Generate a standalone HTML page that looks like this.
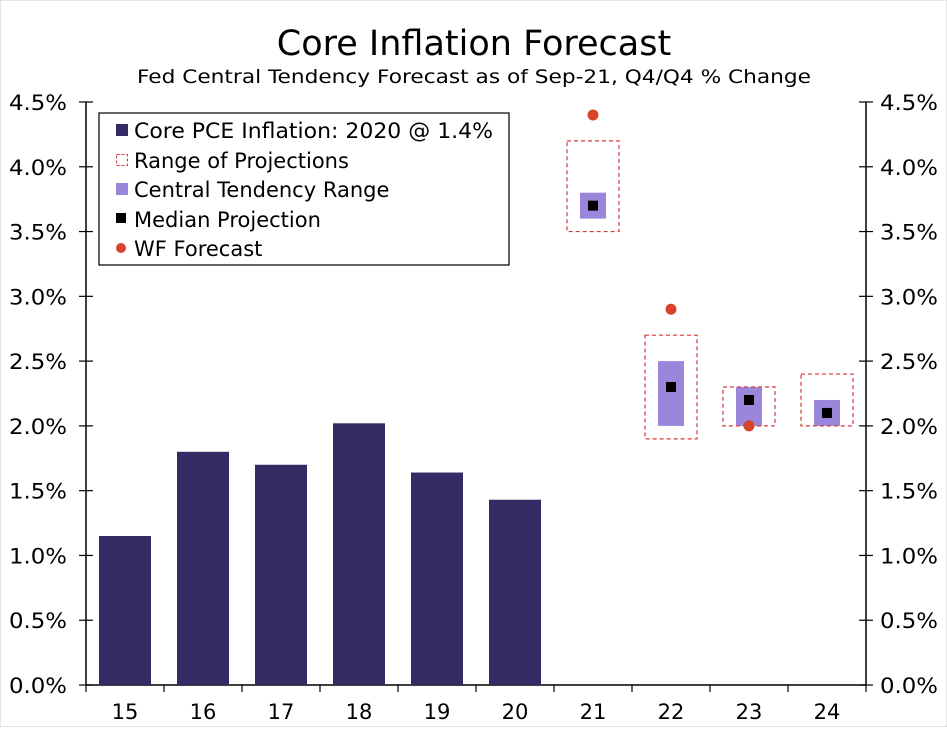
<!DOCTYPE html>
<html><head><meta charset="utf-8"><style>
body{margin:0;background:#fff;font-family:"Liberation Sans","DejaVu Sans",sans-serif;}
svg text{font-family:"DejaVu Sans","Liberation Sans",sans-serif;}
</style></head><body>
<svg id="chart" width="947" height="727" viewBox="0 0 947 727" xmlns="http://www.w3.org/2000/svg">
<rect x="0" y="0" width="947" height="727" fill="#fff" stroke="#ccc"/>
<text x="474" y="55" text-anchor="middle" font-size="35" fill="#000">Core Inflation Forecast</text>
<text x="474" y="83" text-anchor="middle" font-size="19" textLength="674" lengthAdjust="spacingAndGlyphs" fill="#000">Fed Central Tendency Forecast as of Sep-21, Q4/Q4 % Change</text>
<g id="axes"></g>
<g id="marks"></g>
<g>
<rect x="99" y="113" width="410" height="152" fill="#fff" stroke="#000" stroke-width="1.2"/>
<rect x="116" y="124" width="12" height="12" fill="#352a63"/>
<text x="134" y="138" font-size="21" textLength="359" lengthAdjust="spacingAndGlyphs">Core PCE Inflation: 2020 @ 1.4%</text>
<rect x="116.5" y="154.5" width="11" height="11" fill="none" stroke="#d9373a" stroke-dasharray="3,2"/>
<text x="134" y="168" font-size="21">Range of Projections</text>
<rect x="116" y="183" width="12" height="12" fill="#9a87dc"/>
<text x="134" y="197" font-size="21">Central Tendency Range</text>
<rect x="116" y="213" width="10" height="10" fill="#000"/>
<text x="134" y="227" font-size="21">Median Projection</text>
<circle cx="121" cy="248" r="5" fill="#d9432a"/>
<text x="134" y="256" font-size="21">WF Forecast</text>
</g>
</svg>
<script>
const categories=["15","16","17","18","19","20","21","22","23","24"];
const barValues=[1.15,1.8,1.7,2.02,1.64,1.43,null,null,null,null];
const rangeLow=[null,null,null,null,null,null,3.5,1.9,2.0,2.0];
const rangeHigh=[null,null,null,null,null,null,4.2,2.7,2.3,2.4];
const ctLow=[null,null,null,null,null,null,3.6,2.0,2.0,2.0];
const ctHigh=[null,null,null,null,null,null,3.8,2.5,2.3,2.2];
const medianValues=[null,null,null,null,null,null,3.7,2.3,2.2,2.1];
const wfValues=[null,null,null,null,null,null,4.4,2.9,2.0,null];
const yTicks=[0,0.5,1,1.5,2,2.5,3,3.5,4,4.5];

const NS="http://www.w3.org/2000/svg";
const X0=86,X1=866,Y0=685,Y1=102,YMAX=4.5;
const slot=(X1-X0)/categories.length;
function xs(i){return X0+slot*(i+0.5);}
function ys(v){return Y0-(v/YMAX)*(Y0-Y1);}
function mk(tag,attrs,parent){const e=document.createElementNS(NS,tag);for(const k in attrs)e.setAttribute(k,attrs[k]);parent.appendChild(e);return e;}
const axes=document.getElementById('axes'),marks=document.getElementById('marks');

let l=mk('line',{x1:X0,y1:Y1,x2:X0,y2:Y0,stroke:'#000','stroke-width':1.5},axes);


l=mk('line',{x1:X1,y1:Y1,x2:X1,y2:Y0,stroke:'#000','stroke-width':1.5},axes);


l=mk('line',{x1:X0,y1:Y0,x2:X1,y2:Y0,stroke:'#000','stroke-width':1.5},axes);


yTicks.forEach(v=>{
  const y=ys(v),lab=v.toFixed(1)+'%';
  mk('line',{x1:X0-7,y1:y,x2:X0+7,y2:y,stroke:'#000','stroke-width':1.2},axes);
  mk('line',{x1:X1-7,y1:y,x2:X1+7,y2:y,stroke:'#000','stroke-width':1.2},axes);
  let t=mk('text',{x:X0-19,y:y+8,'text-anchor':'end','font-size':21,textLength:58,lengthAdjust:'spacingAndGlyphs'},axes);t.textContent=lab;
  
  
  t=mk('text',{x:X1+14,y:y+8,'text-anchor':'start','font-size':21,textLength:58,lengthAdjust:'spacingAndGlyphs'},axes);t.textContent=lab;
  
  
});
categories.forEach((c,i)=>{
  const xb=X0+slot*(i+1);
  mk('line',{x1:xb,y1:Y0,x2:xb,y2:Y0+7,stroke:'#000','stroke-width':1.2},axes);
  const t=mk('text',{x:xs(i),y:Y0+34,'text-anchor':'middle','font-size':21},axes);t.textContent=c;
  
  
});
mk('line',{x1:X0,y1:Y0,x2:X0,y2:Y0+7,stroke:'#000','stroke-width':1.2},axes);

categories.forEach((c,i)=>{
  const x=xs(i);
  if(barValues[i]!=null){
    const r=mk('rect',{x:x-26,y:ys(barValues[i]),width:52,height:Y0-ys(barValues[i]),fill:'#352a63'},marks);
    
    
  }
  if(ctLow[i]!=null){
    const r=mk('rect',{x:x-13,y:ys(ctHigh[i]),width:26,height:ys(ctLow[i])-ys(ctHigh[i]),fill:'#9a87dc'},marks);
    
    
  }
  if(rangeLow[i]!=null){
    const r=mk('rect',{x:x-26,y:ys(rangeHigh[i]),width:52,height:ys(rangeLow[i])-ys(rangeHigh[i]),fill:'none',stroke:'#d9373a','stroke-width':1.2,'stroke-dasharray':'4,3'},marks);
    
    
  }
  if(medianValues[i]!=null){
    const r=mk('rect',{x:x-5,y:ys(medianValues[i])-5,width:10,height:10,fill:'#000'},marks);
    
    
  }
  if(wfValues[i]!=null){
    const d=mk('circle',{cx:x,cy:ys(wfValues[i]),r:5.5,fill:'#d9432a'},marks);
    
    
  }
});
</script>
</body></html>
